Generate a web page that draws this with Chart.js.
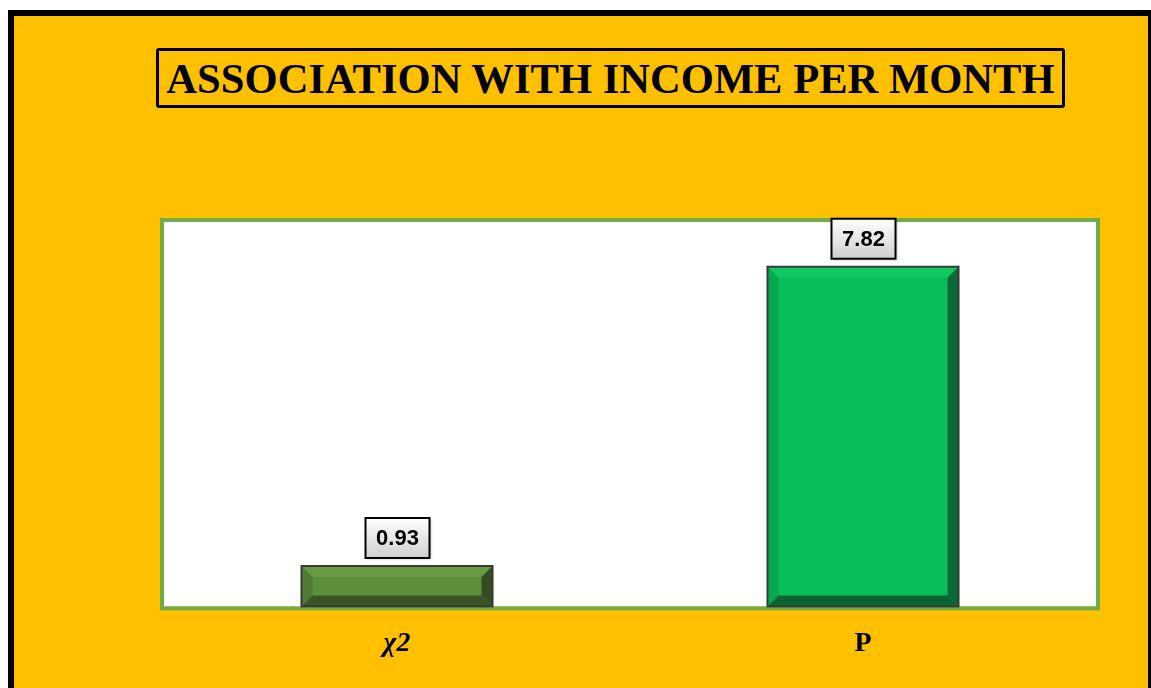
<!DOCTYPE html>
<html>
<head>
<meta charset="utf-8">
<script src="https://cdn.jsdelivr.net/npm/chart.js@4.4.1/dist/chart.umd.min.js"></script>
<style>
  html, body { margin: 0; padding: 0; background: #fff; }
  .frame {
    position: absolute; left: 8px; top: 10px; width: 1134px; height: 690px;
    background: #FFC000; border-top: 6px solid #000; border-left: 6px solid #000; border-right: 3px solid #000;
  }
  .titulo {
    position: absolute; left: 156px; top: 48px; width: 903px; height: 54px;
    border: 3px solid #000; border-radius: 3px;
    font: bold 42.6px "Liberation Serif", "Times New Roman", serif;
    text-align: center; line-height: 56px; color: #000; white-space: nowrap;
  }
  #grafico { position: absolute; left: 0; top: 0; }
</style>
</head>
<body>
<div class="frame"></div>
<div class="titulo">ASSOCIATION WITH INCOME PER MONTH</div>
<canvas id="grafico" width="1151" height="688"></canvas>
<script>
const categorias = ['χ2', 'P'];
const valores = [0.93, 7.82];
const coresBarra = ['#5E8E3B', '#07BE5A'];
const coresFaceta = [
  { esq: '#4F7C31', dir: '#354D24', baixo: '#3A5428', cima: '#679A42' },
  { esq: '#07A84E', dir: '#086A35', baixo: '#0B6434', cima: '#10C862' }
];

// fundo branco da área do gráfico com borda verde
const areaPlot = {
  id: 'areaPlot',
  beforeDatasetsDraw(chart) {
    const { ctx, chartArea: a } = chart;
    ctx.save();
    ctx.fillStyle = '#fff';
    ctx.fillRect(a.left, a.top, a.right - a.left, a.bottom - a.top);
    ctx.strokeStyle = '#70AD47';
    ctx.lineWidth = 4;
    ctx.strokeRect(a.left - 2, a.top - 2, a.right - a.left + 4, a.bottom - a.top + 4);
    ctx.restore();
  }
};

// efeito chanfrado nas barras + caixas com os valores
const chanfro = {
  id: 'chanfro',
  afterDatasetsDraw(chart) {
    const { ctx } = chart;
    const meta = chart.getDatasetMeta(0);
    meta.data.forEach((bar, i) => {
      const l = bar.x - bar.width / 2, r = bar.x + bar.width / 2;
      const t = bar.y, b = bar.base;
      const s = Math.min(11, (b - t) / 2);
      const c = coresFaceta[i];
      ctx.save();
      const face = (cor, pts) => {
        ctx.fillStyle = cor;
        ctx.beginPath();
        ctx.moveTo(pts[0][0], pts[0][1]);
        pts.slice(1).forEach(p => ctx.lineTo(p[0], p[1]));
        ctx.closePath();
        ctx.fill();
      };
      face(c.cima, [[l, t], [r, t], [r - s, t + s], [l + s, t + s]]);
      face(c.esq, [[l, t], [l + s, t + s], [l + s, b - s], [l, b]]);
      face(c.dir, [[r, t], [r, b], [r - s, b - s], [r - s, t + s]]);
      face(c.baixo, [[l, b], [l + s, b - s], [r - s, b - s], [r, b]]);
      ctx.strokeStyle = '#3A3A3A';
      ctx.lineWidth = 2;
      ctx.strokeRect(l, t, r - l, b - t);

      // caixa do rótulo
      const w = 64, h = 40;
      const bx = bar.x - w / 2 + 0.5, by = t - 8 - h;
      const g = ctx.createLinearGradient(0, by, 0, by + h);
      g.addColorStop(0, '#FFFFFF');
      g.addColorStop(1, '#CFCFCF');
      ctx.shadowColor = 'rgba(0,0,0,0.35)';
      ctx.shadowBlur = 3;
      ctx.shadowOffsetX = 1;
      ctx.shadowOffsetY = 1;
      ctx.fillStyle = g;
      ctx.fillRect(bx, by, w, h);
      ctx.shadowColor = 'transparent';
      ctx.strokeStyle = '#000';
      ctx.lineWidth = 2;
      ctx.strokeRect(bx, by, w, h);
      ctx.fillStyle = '#000';
      ctx.font = 'bold 22px "Liberation Sans", Arial, sans-serif';
      ctx.textAlign = 'center';
      ctx.textBaseline = 'middle';
      ctx.fillText(valores[i].toFixed(2), bx + w / 2, by + h / 2 + 1);
      ctx.restore();
    });
  }
};

new Chart(document.getElementById('grafico'), {
  type: 'bar',
  data: {
    labels: categorias,
    datasets: [{
      data: valores,
      backgroundColor: coresBarra,
      borderWidth: 0,
      barPercentage: 0.41,
      categoryPercentage: 1
    }]
  },
  options: {
    responsive: false,
    animation: false,
    layout: { padding: { left: 164, right: 55, top: 222, bottom: 14 } },
    plugins: { legend: { display: false }, tooltip: { enabled: false } },
    scales: {
      y: { display: false, min: 0, max: 8.85 },
      x: {
        grid: { display: false },
        border: { display: false },
        ticks: {
          color: '#000',
          padding: 13,
          font: ctx => ({
            family: '"Liberation Serif", "Times New Roman", serif',
            size: 28,
            weight: 'bold',
            style: ctx.index === 0 ? 'italic' : 'normal'
          })
        }
      }
    }
  },
  plugins: [areaPlot, chanfro]
});
</script>
</body>
</html>
